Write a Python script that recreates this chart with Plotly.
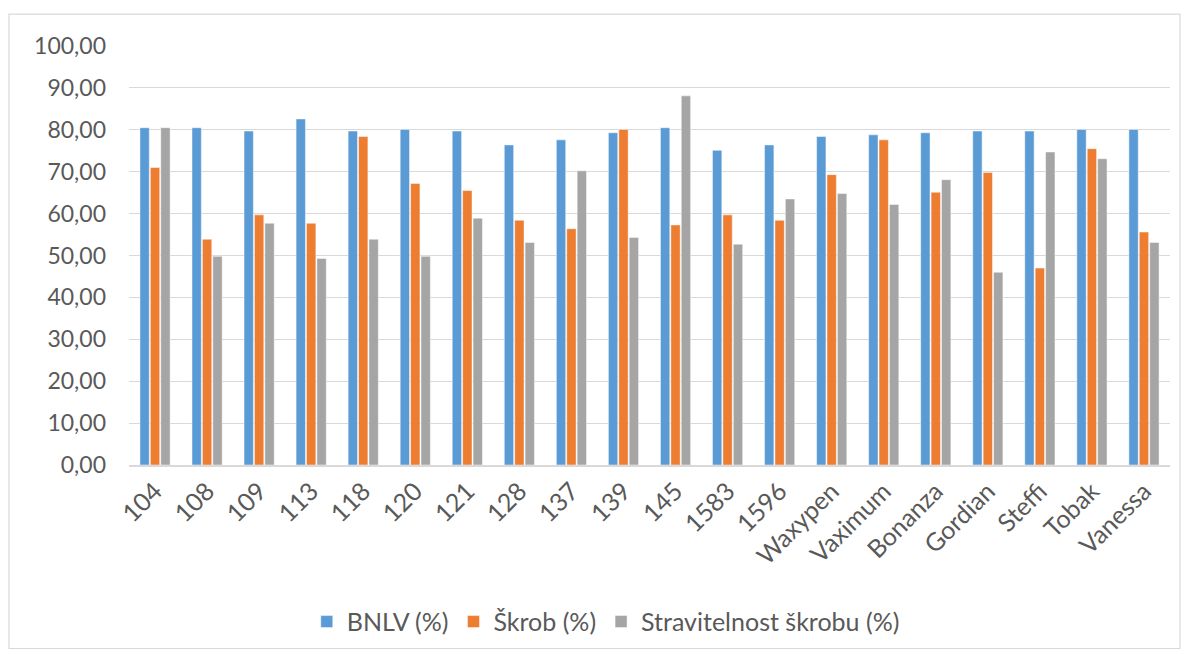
import plotly.graph_objects as go

# Varieties / breeding lines
categories = ["104", "108", "109", "113", "118", "120", "121", "128", "137", "139",
              "145", "1583", "1596", "Waxypen", "Vaximum", "Bonanza", "Gordian",
              "Steffi", "Tobak", "Vanessa"]

bnlv = [80.5, 80.5, 79.7, 82.6, 79.7, 80.1, 79.7, 76.4, 77.6, 79.3,
        80.5, 75.1, 76.4, 78.4, 78.8, 79.3, 79.7, 79.7, 80.1, 80.1]
skrob = [71.0, 53.9, 59.7, 57.7, 78.4, 67.2, 65.5, 58.4, 56.4, 80.1,
         57.3, 59.7, 58.4, 69.3, 77.6, 65.1, 69.8, 47.0, 75.5, 55.6]
stravitelnost = [80.5, 49.8, 57.7, 49.3, 53.9, 49.8, 58.9, 53.1, 70.2, 54.3,
                 88.1, 52.7, 63.5, 64.8, 62.2, 68.1, 46.0, 74.7, 73.1, 53.1]

series = [
    ("BNLV (%)", bnlv, "#5B9BD5"),
    ("Škrob (%)", skrob, "#ED7D31"),
    ("Stravitelnost škrobu (%)", stravitelnost, "#A5A5A5"),
]

font_family = "Lato, 'Noto Sans', sans-serif"
text_color = "#595959"

fig = go.Figure()
for name, vals, color in series:
    fig.add_trace(go.Bar(
        name=name, x=categories, y=vals,
        marker=dict(color=color, line=dict(color="rgba(255,255,255,0.6)", width=0.8)),
    ))

fig.update_layout(
    width=1186, height=655,
    margin=dict(l=129, r=16, t=46, b=189),
    paper_bgcolor="white", plot_bgcolor="white",
    separators=", ",
    barmode="group", bargap=0.4, bargroupgap=0.1,
    font=dict(family=font_family, size=23, color=text_color),
    showlegend=True,
    legend=dict(orientation="h", x=0.458, xanchor="center", y=-0.371, yanchor="middle",
                font=dict(size=25, color=text_color), itemwidth=30,
                traceorder="normal"),
    xaxis=dict(
        type="category", tickangle=-45, showgrid=False,
        showline=True, linecolor="#D9D9D9", linewidth=1.5,
        ticks="", tickfont=dict(size=25, color=text_color),
    ),
    yaxis=dict(
        range=[0, 100], dtick=10, tickformat=".2f",
        showgrid=True, gridcolor="#D9D9D9", gridwidth=1.2,
        zeroline=False, showline=False, ticks="",
        tickfont=dict(size=23, color=text_color), ticklabelstandoff=22,
    ),
    shapes=[dict(type="rect", xref="paper", yref="paper",
                 x0=-0.1153, x1=1.0096, y0=-0.438, y1=1.076,
                 line=dict(color="#D9D9D9", width=1.2), fillcolor="rgba(0,0,0,0)")],
)

fig.write_html("out.html")
